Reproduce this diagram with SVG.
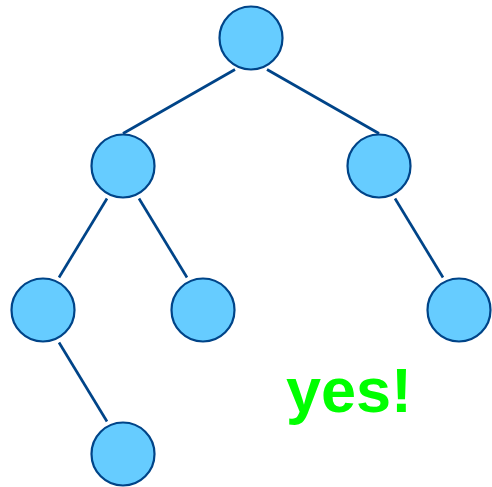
<svg xmlns="http://www.w3.org/2000/svg" width="492" height="487" viewBox="0 0 492 487">
<style>
.node{fill:#66ccff;stroke:#004488;stroke-width:2.2}
.edge{stroke:#004488;stroke-width:2.7;fill:none}
.lbl{font-family:"Liberation Sans",Arial,sans-serif;font-weight:bold;font-size:63px;fill:#00ff00}
</style>
<rect width="492" height="487" fill="#ffffff"/>
<g id="connectors">
<line class="edge" x1="235" y1="69.5" x2="123" y2="133.5"/>
<line class="edge" x1="267" y1="69.5" x2="379" y2="133.5"/>
<line class="edge" x1="107" y1="198.5" x2="59" y2="277.5"/>
<line class="edge" x1="139" y1="198.5" x2="187" y2="277.5"/>
<line class="edge" x1="395" y1="198.5" x2="443" y2="277.5"/>
<line class="edge" x1="59" y1="342.5" x2="107" y2="421.5"/>
</g>
<g id="n-root"><circle class="node" cx="251" cy="38" r="31.5"/></g>
<g id="n-l"><circle class="node" cx="123" cy="166" r="31.5"/></g>
<g id="n-r"><circle class="node" cx="379" cy="166" r="31.5"/></g>
<g id="n-ll"><circle class="node" cx="43" cy="310" r="31.5"/></g>
<g id="n-lr"><circle class="node" cx="203" cy="310" r="31.5"/></g>
<g id="n-rr"><circle class="node" cx="459" cy="310" r="31.5"/></g>
<g id="n-lll"><circle class="node" cx="123" cy="454" r="31.5"/></g>
<text class="lbl" x="286" y="412">yes!</text>
</svg>
